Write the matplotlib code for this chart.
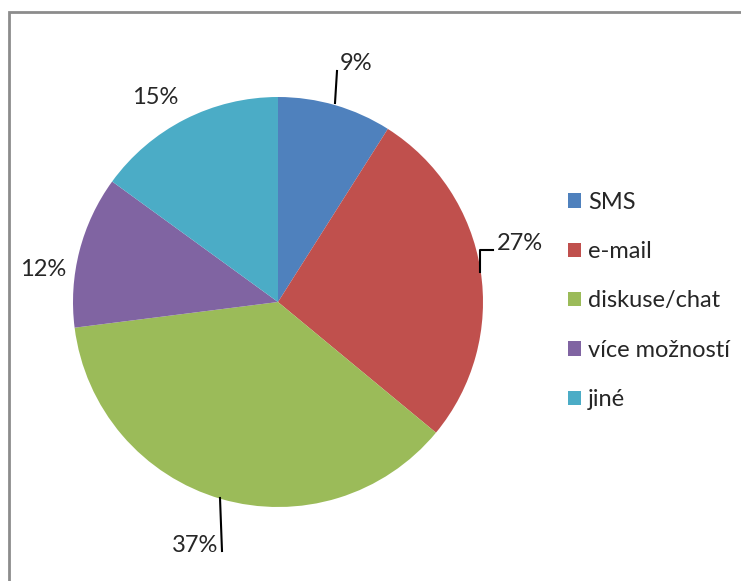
import matplotlib.pyplot as plt
from matplotlib.patches import Rectangle

categories = ['SMS', 'e-mail', 'diskuse/chat', 'více možností', 'jiné']
shares = [9, 27, 37, 12, 15]
colors = ['#4F81BD', '#C0504D', '#9BBB59', '#8064A2', '#4BACC6']

W, H = 741, 581
fig = plt.figure(figsize=(W / 100, H / 100), dpi=100)
ax = fig.add_axes([0, 0, 1, 1])
ax.set_xlim(0, W)
ax.set_ylim(0, H)
ax.axis('off')

plt.rcParams['font.family'] = ['Lato', 'DejaVu Sans']

# chart frame (runs off the right/bottom edge like the original)
ax.add_patch(Rectangle((9, -20), W + 20, H - 12 + 20, fill=False,
                       edgecolor='#8c8c8c', linewidth=2))

wedges, _ = ax.pie(shares, colors=colors, startangle=90, counterclock=False,
                   center=(278, H - 302), radius=205,
                   wedgeprops=dict(linewidth=0))
ax.set_xlim(0, W)
ax.set_ylim(0, H)
ax.set_aspect('equal')

# percentage labels (pixel positions, y measured from top)
label_pos = [(356, 63), (520, 243), (195, 545), (43, 270), (155, 97)]
for v, (x, y) in zip(shares, label_pos):
    ax.text(x, H - y, '%d%%' % v, ha='center', va='center',
            fontsize=17, color='#262626')

# leader lines
ax.plot([335, 337], [H - 103, H - 71], color='black', lw=1.5)
ax.plot([480, 480, 493], [H - 272, H - 250, H - 250], color='black', lw=1.5)
ax.plot([220, 222], [H - 498, H - 551], color='black', lw=1.5)

leg = ax.legend(wedges, categories, loc='center left',
                bbox_to_anchor=(556 / W, 1 - 301 / H), frameon=False,
                fontsize=17, handlelength=0.55, handleheight=0.55,
                handletextpad=0.3, labelspacing=1.2, borderpad=0)
for t in leg.get_texts():
    t.set_color('#262626')

fig.savefig('out.png', dpi=100)
